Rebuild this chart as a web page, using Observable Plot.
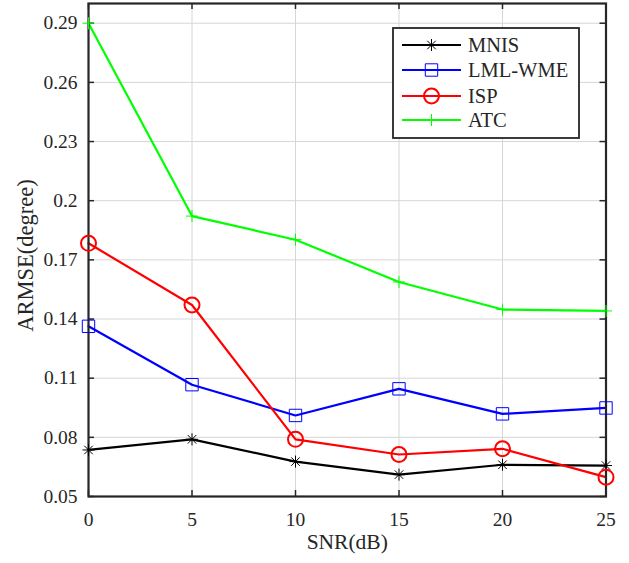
<!DOCTYPE html>
<html>
<head>
<meta charset="utf-8">
<script src="https://cdn.jsdelivr.net/npm/d3@7"></script>
<script src="https://cdn.jsdelivr.net/npm/@observablehq/plot@0.6"></script>
<style>
  html, body { margin: 0; padding: 0; background: #fff; }
  #chart { width: 629px; height: 563px; }
  #chart svg, #chart svg text { font-family: "Liberation Serif", "Times New Roman", serif !important; }
</style>
</head>
<body>
<div id="chart"></div>
<script>
// SNR sweep (dB) and ARMSE (degree) for each estimator
const snr = [0, 5, 10, 15, 20, 25];
const mnis = [0.0736, 0.0790, 0.0677, 0.0611, 0.0661, 0.0657];
const lmlWme = [0.1363, 0.1067, 0.0911, 0.1046, 0.0919, 0.0949];
const isp = [0.1784, 0.1471, 0.0790, 0.0713, 0.0742, 0.0598];
const atc = [0.2900, 0.1922, 0.1802, 0.1588, 0.1448, 0.1441];

const seriesNames = ["MNIS", "LML-WME", "ISP", "ATC"];
const seriesValues = [mnis, lmlWme, isp, atc];
const seriesColors = ["#000000", "#0000ff", "#ff0000", "#00ff00"];

const xTicks = [0, 5, 10, 15, 20, 25];
const yTicks = [0.05, 0.08, 0.11, 0.14, 0.17, 0.2, 0.23, 0.26, 0.29];
const yTickLabels = ["0.05", "0.08", "0.11", "0.14", "0.17", "0.2", "0.23", "0.26", "0.29"];

// MATLAB-like marker shapes as d3 symbol types (r = sqrt(size / PI))
const radius = (size) => Math.sqrt(size / Math.PI);
const asterisk = {
  draw(ctx, size) {
    const r = radius(size), d = r * Math.SQRT1_2;
    ctx.moveTo(-r, 0); ctx.lineTo(r, 0);
    ctx.moveTo(0, -r); ctx.lineTo(0, r);
    ctx.moveTo(-d, -d); ctx.lineTo(d, d);
    ctx.moveTo(-d, d); ctx.lineTo(d, -d);
  }
};
const square = {
  draw(ctx, size) {
    const r = radius(size);
    ctx.moveTo(-r, -r); ctx.lineTo(r, -r); ctx.lineTo(r, r); ctx.lineTo(-r, r); ctx.closePath();
  }
};
const plus = {
  draw(ctx, size) {
    const r = radius(size);
    ctx.moveTo(-r, 0); ctx.lineTo(r, 0);
    ctx.moveTo(0, -r); ctx.lineTo(0, r);
  }
};
const seriesSymbols = [asterisk, square, d3.symbolCircle, plus];
const markerR = [6, 6.2, 7.5, 6];
const markerWidth = [1, 1, 2, 1];

const rows = seriesNames.flatMap((name, i) =>
  snr.map((x, j) => ({series: name, snr: x, armse: seriesValues[i][j]}))
);

const W = 629, H = 563;
const mL = 88, mR = 23.5, mT = 3, mB = 67;
const frameW = W - mL - mR, frameH = H - mT - mB;
const tickLen = 6;
const ink = "#262626";
const font = "'Liberation Serif', 'Times New Roman', serif";

const plot = Plot.plot({
  width: W,
  height: H,
  marginLeft: mL,
  marginRight: mR,
  marginTop: mT,
  marginBottom: mB,
  style: {fontFamily: font, fontSize: "19.5px", color: ink, background: "#fff", overflow: "visible"},
  x: {domain: [0, 25], ticks: xTicks},
  y: {domain: [0.05, 0.30], ticks: yTicks},
  color: {domain: seriesNames, range: seriesColors},
  marks: [
    Plot.gridX(xTicks, {stroke: "#d6d6d6", strokeOpacity: 1, strokeWidth: 1}),
    Plot.gridY(yTicks, {stroke: "#d6d6d6", strokeOpacity: 1, strokeWidth: 1}),
    // inward ticks on all four sides
    Plot.tickY(yTicks, {y: (d) => d, insetRight: frameW - tickLen, stroke: ink, strokeWidth: 1.5}),
    Plot.tickY(yTicks, {y: (d) => d, insetLeft: frameW - tickLen, stroke: ink, strokeWidth: 1.5}),
    Plot.tickX(xTicks, {x: (d) => d, insetTop: frameH - tickLen, stroke: ink, strokeWidth: 1.5}),
    Plot.tickX(xTicks, {x: (d) => d, insetBottom: frameH - tickLen, stroke: ink, strokeWidth: 1.5}),
    Plot.line(rows, {x: "snr", y: "armse", z: "series", stroke: "series", strokeWidth: 2.2}),
    Plot.frame({stroke: ink, strokeWidth: 2.2}),
    ...seriesNames.map((name, i) =>
      Plot.dot(rows.filter((d) => d.series === name), {
        x: "snr", y: "armse",
        symbol: () => seriesSymbols[i],
        r: markerR[i],
        stroke: seriesColors[i],
        strokeWidth: markerWidth[i],
        fill: "none"
      })
    ),
    Plot.axisX(xTicks, {tickSize: 0, tickPadding: 16, label: null, fill: ink, fontSize: 19.5}),
    Plot.axisY(yTicks, {tickSize: 0, tickPadding: 11, label: null, fill: ink, fontSize: 19.5,
      tickFormat: (d) => yTickLabels[yTicks.indexOf(d)]}),
    Plot.text(["SNR(dB)"], {frameAnchor: "bottom", textAnchor: "middle", dy: 52, fontSize: 21.5, fill: ink}),
    Plot.text(["ARMSE(degree)"], {frameAnchor: "left", textAnchor: "middle", dx: -62.5, dy: 5.5, rotate: -90, fontSize: 22.5, fill: ink})
  ]
});

// Legend box in the upper right of the axes
const svg = d3.select(plot);
const lg = svg.append("g").attr("font-size", 20.5).attr("text-anchor", "start");
const box = {x: 393, y: 28, w: 186, h: 110};
lg.append("rect").attr("x", box.x).attr("y", box.y).attr("width", box.w).attr("height", box.h)
  .attr("fill", "#fff").attr("stroke", ink).attr("stroke-width", 1.8);
const rowY = [45, 70, 96, 120];
seriesNames.forEach((name, i) => {
  const y = rowY[i];
  lg.append("line").attr("x1", 402).attr("x2", 461).attr("y1", y).attr("y2", y)
    .attr("stroke", seriesColors[i]).attr("stroke-width", 2.2);
  lg.append("path").attr("transform", `translate(431.5,${y})`)
    .attr("d", d3.symbol(seriesSymbols[i], Math.PI * markerR[i] * markerR[i])())
    .attr("fill", "none").attr("stroke", seriesColors[i]).attr("stroke-width", markerWidth[i]);
  lg.append("text").attr("x", 468).attr("y", y).attr("dy", "0.35em")
    .attr("text-anchor", "start").attr("fill", ink).text(name);
});

document.getElementById("chart").appendChild(plot);
</script>
</body>
</html>
